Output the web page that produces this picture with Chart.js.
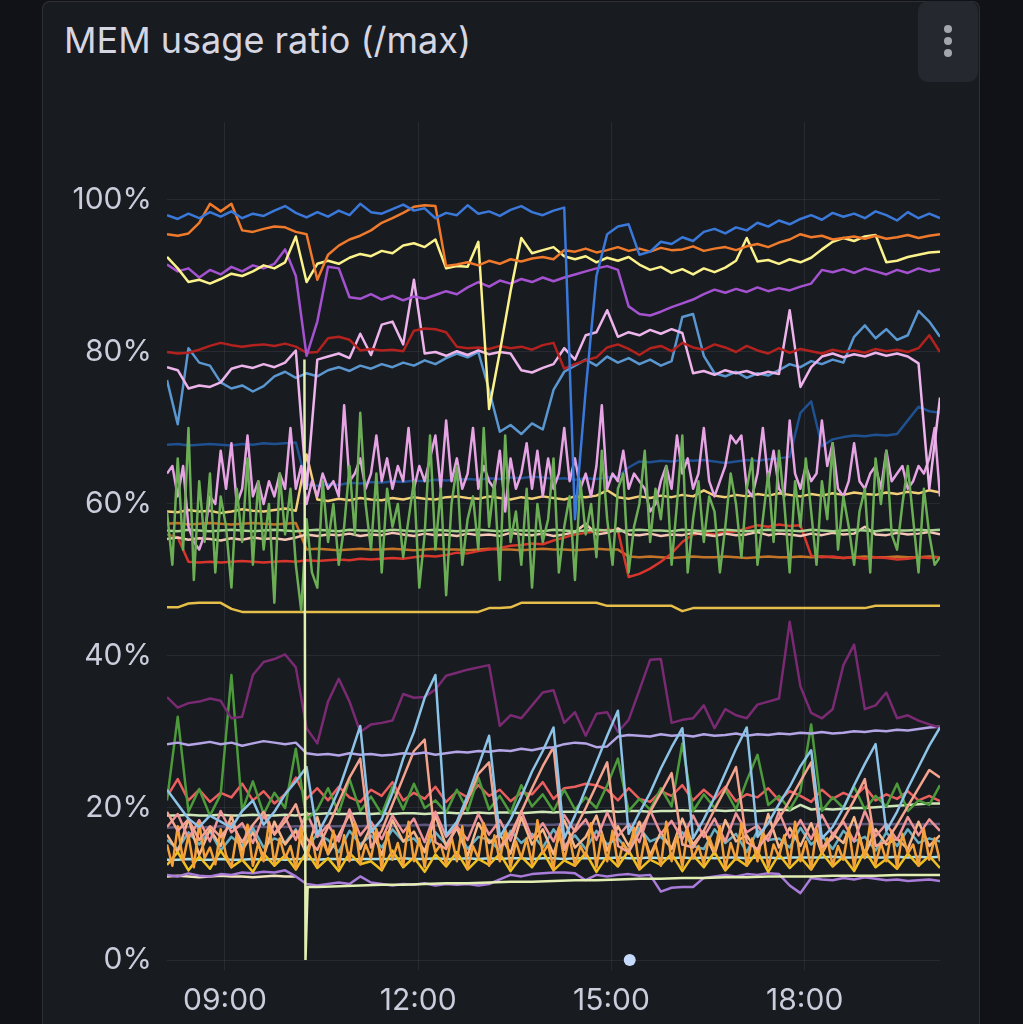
<!DOCTYPE html>
<html>
<head>
<meta charset="utf-8">
<script src="https://cdn.jsdelivr.net/npm/chart.js@4.4.1/dist/chart.umd.min.js"></script>
<style>
html, body { margin: 0; padding: 0; background: #111217; width: 1023px; height: 1024px; overflow: hidden; }
#panel { position: absolute; left: 42px; top: 1px; width: 936px; height: 1100px; background: #181b1f; border: 1px solid rgba(204,204,220,0.12); border-radius: 8px; }
#title { position: absolute; left: 64px; top: 22px; font: 400 36px Inter, sans-serif; line-height: 1; color: #d6d6e2; white-space: nowrap; }
#menu { position: absolute; left: 918px; top: 1px; width: 60px; height: 81px; background: #25282e; border-radius: 10px; }
.dot { position: absolute; left: 26px; width: 8px; height: 8px; border-radius: 50%; background: #a3a6ad; }
#chart { position: absolute; left: 0; top: 0; }
</style>
</head>
<body>
<div id="panel"></div>
<div id="title">MEM usage ratio (/max)</div>
<div id="menu"><div class="dot" style="top:24px"></div><div class="dot" style="top:36px"></div><div class="dot" style="top:48px"></div></div>
<canvas id="chart" width="1023" height="1024"></canvas>
<script>
// sample times, minutes since midnight (10 min and 5 min steps)
const times = [486, 496, 506, 516, 526, 536, 546, 556, 566, 576,
  586, 596, 606, 616, 626, 636, 646, 656, 666, 676,
  686, 696, 706, 716, 726, 736, 746, 756, 766, 776,
  786, 796, 806, 816, 826, 836, 846, 856, 866, 876,
  886, 896, 906, 916, 926, 936, 946, 956, 966, 976,
  986, 996, 1006, 1016, 1026, 1036, 1046, 1056, 1066, 1076,
  1086, 1096, 1106, 1116, 1126, 1136, 1146, 1156, 1166, 1176,
  1186, 1196, 1206]

const fineTimes = [486, 491, 496, 501, 506, 511, 516, 521, 526, 531, 536, 541,
  546, 551, 556, 561, 566, 571, 576, 581, 586, 591, 596, 601,
  606, 611, 616, 621, 626, 631, 636, 641, 646, 651, 656, 661,
  666, 671, 676, 681, 686, 691, 696, 701, 706, 711, 716, 721,
  726, 731, 736, 741, 746, 751, 756, 761, 766, 771, 776, 781,
  786, 791, 796, 801, 806, 811, 816, 821, 826, 831, 836, 841,
  846, 851, 856, 861, 866, 871, 876, 881, 886, 891, 896, 901,
  906, 911, 916, 921, 926, 931, 936, 941, 946, 951, 956, 961,
  966, 971, 976, 981, 986, 991, 996, 1001, 1006, 1011, 1016, 1021,
  1026, 1031, 1036, 1041, 1046, 1051, 1056, 1061, 1066, 1071, 1076, 1081,
  1086, 1091, 1096, 1101, 1106, 1111, 1116, 1121, 1126, 1131, 1136, 1141,
  1146, 1151, 1156, 1161, 1166, 1171, 1176, 1181, 1186, 1191, 1196, 1201,
  1206]

const paleLimeTimes = [614, 615, 617, 626, 646, 666, 686, 706, 726, 746, 766, 786, 806, 826, 846, 866, 886,
  906, 926, 946, 966, 986, 1006, 1026, 1046, 1066, 1086, 1106, 1126, 1146, 1166, 1186, 1206]

const xTicks = [540, 720, 900, 1080]
const yTicks = [0, 20, 40, 60, 80, 100]

// series values, percent of max
const blueTop = [98.0, 97.5, 98.2, 97.6, 98.4, 97.8, 98.5, 97.6, 98.2, 97.9,
  98.6, 99.2, 98.3, 97.7, 98.4, 97.8, 98.6, 98.0, 99.5, 98.4,
  98.2, 98.8, 99.4, 98.6, 98.9, 97.6, 98.3, 98.0, 99.3, 98.2,
  98.5, 97.9, 98.7, 99.2, 98.4, 98.0, 98.6, 99.0, 58.0, 75.0,
  90.0, 95.5, 96.5, 96.8, 92.8, 93.2, 94.5, 94.2, 95.1, 94.6,
  95.8, 96.2, 95.6, 96.4, 96.0, 97.0, 96.5, 97.3, 96.8, 97.5,
  98.0, 97.4, 98.3, 97.8, 98.2, 97.6, 98.5, 98.0, 97.3, 98.4,
  97.6, 98.2, 97.6]

const orange = [95.5, 95.3, 95.6, 97.0, 99.5, 98.5, 99.5, 96.0, 95.8, 96.2,
  96.5, 96.4, 95.8, 95.5, 89.5, 92.8, 94.0, 94.8, 95.3, 96.0,
  97.0, 97.6, 98.3, 99.1, 99.3, 99.2, 91.3, 91.5, 91.8, 91.4,
  92.0, 91.6, 92.2, 91.9, 92.3, 92.5, 92.2, 93.4, 93.2, 93.6,
  93.1, 93.4, 93.8, 93.3, 93.6, 93.2, 93.7, 93.4, 93.5, 93.9,
  93.3, 93.6, 93.8, 93.4, 93.9, 94.2, 93.8, 94.4, 94.8, 95.5,
  95.1, 95.3, 94.8, 95.0, 95.2, 94.9, 95.3, 94.9, 95.1, 95.4,
  95.0, 95.3, 95.5]

const yellowLight = [92.5, 91.0, 89.2, 89.5, 89.0, 89.6, 90.3, 90.0, 90.6, 91.4,
  91.0, 91.8, 95.2, 89.2, 91.6, 92.0, 91.6, 92.4, 92.9, 92.6,
  93.3, 93.0, 94.0, 94.3, 93.8, 94.8, 91.0, 91.3, 91.2, 94.5,
  72.5, 80.0, 88.0, 95.0, 93.0, 93.4, 93.8, 92.6, 92.2, 92.6,
  91.8, 92.4, 92.0, 92.5, 91.5, 90.8, 91.2, 90.4, 90.9, 90.2,
  91.0, 90.5, 91.1, 92.0, 95.0, 91.9, 92.1, 91.6, 92.2, 91.8,
  92.4, 93.5, 94.5, 95.0, 94.6, 95.2, 95.4, 91.8, 92.0, 92.5,
  92.8, 93.1, 93.2]

const purple = [91.5, 90.6, 91.0, 89.8, 90.8, 90.2, 91.2, 90.6, 91.4, 91.0,
  91.6, 93.5, 90.0, 79.5, 84.0, 91.2, 91.0, 87.2, 87.0, 87.6,
  86.9, 87.4, 86.8, 87.3, 87.0, 87.5, 88.0, 87.6, 88.5, 89.2,
  88.6, 89.4, 89.0, 89.6, 89.2, 89.8, 89.3, 89.8, 90.2, 90.6,
  91.0, 91.3, 90.8, 86.0, 85.0, 84.8, 85.3, 85.9, 86.4, 86.9,
  87.6, 88.2, 87.8, 88.3, 87.9, 88.5, 88.0, 88.4, 88.1, 88.6,
  89.0, 90.8, 90.5, 90.9, 90.4, 91.0, 90.6, 90.2, 90.8, 90.4,
  91.0, 90.6, 90.9]

const darkRed = [80.0, 79.8, 79.9, 80.3, 80.8, 81.2, 80.9, 80.7, 80.9, 81.0,
  80.8, 81.1, 80.7, 79.9, 80.0, 81.8, 82.0, 81.6, 80.2, 80.4,
  80.2, 80.3, 80.1, 82.8, 83.1, 83.0, 82.6, 80.7, 80.5, 80.6,
  80.4, 80.8, 80.5, 80.7, 80.3, 80.9, 81.2, 77.8, 78.4, 78.9,
  79.3, 80.6, 81.0, 80.4, 79.6, 80.5, 80.8, 80.1, 81.2, 80.6,
  80.3, 81.0, 80.6, 80.0, 80.8, 80.2, 79.8, 80.5, 79.9, 80.4,
  80.1, 79.8, 80.3, 80.0, 80.2, 79.9, 80.4, 80.1, 80.3, 80.0,
  80.5, 82.2, 80.0]

const lavender = [78.0, 77.6, 75.2, 75.6, 75.4, 76.0, 77.8, 78.2, 77.9, 78.4,
  78.0, 78.6, 80.2, 62.0, 79.0, 79.4, 79.8, 79.2, 82.4, 79.6,
  83.6, 84.0, 81.0, 89.5, 79.8, 80.0, 79.5, 80.1, 79.6, 80.2,
  79.7, 80.0, 79.8, 77.6, 77.3, 77.9, 78.4, 80.5, 79.0, 82.2,
  82.6, 85.5, 82.0, 82.6, 82.2, 82.9, 82.4, 83.0, 82.5, 77.2,
  77.5, 77.0, 77.6, 77.2, 77.5, 77.0, 77.4, 77.1, 85.5, 75.4,
  78.0, 79.4, 79.8, 79.3, 79.7, 79.4, 79.9, 79.5, 79.8, 79.4,
  78.5, 62.0, 74.0]

const steelBlue = [76.3, 70.5, 80.5, 78.6, 78.2, 76.0, 75.2, 75.6, 74.8, 75.5,
  76.8, 77.4, 76.6, 77.2, 76.8, 77.6, 78.0, 77.5, 78.2, 77.8,
  78.4, 78.0, 78.6, 78.2, 78.9, 78.4, 79.2, 79.8, 79.3, 80.0,
  75.0, 69.5, 70.4, 69.2, 70.6, 69.8, 75.0, 77.4, 78.2, 79.0,
  78.2, 79.4, 78.6, 79.2, 78.4, 79.0, 78.2, 78.8, 84.6, 85.0,
  79.5, 77.2, 76.8, 77.4, 76.6, 77.2, 76.9, 77.6, 78.4, 78.0,
  78.8, 78.4, 79.0, 78.6, 82.0, 83.5, 81.8, 83.0, 81.6, 82.2,
  85.4, 84.0, 82.0]

const navy = [67.8, 67.9, 67.7, 67.8, 67.9, 67.8, 67.7, 67.9, 67.8, 68.0,
  67.9, 68.0, 68.1, 62.6, 62.4, 62.6, 62.5, 62.8, 62.7, 62.9,
  62.8, 63.0, 62.9, 63.1, 63.0, 63.2, 63.1, 63.2, 63.3, 63.2,
  63.4, 63.3, 63.5, 63.4, 63.6, 63.5, 63.3, 63.4, 63.2, 63.4,
  63.3, 63.5, 63.6, 64.8, 65.6, 65.5, 65.7, 65.6, 65.8, 65.7,
  65.8, 65.6, 65.4, 65.6, 65.8, 65.7, 65.9, 66.0, 66.2, 72.0,
  73.5, 67.6, 68.5, 68.8, 69.0, 68.9, 69.1, 69.0, 69.2, 71.0,
  72.8, 72.2, 72.0]

const pinkNoisy = [64, 65, 61, 65, 57, 55, 54, 56, 61, 60, 67, 62,
  68, 60, 62, 69, 61, 63, 60, 63, 61, 64, 62, 70,
  62, 65, 60, 63, 61, 64, 62, 63, 61, 73, 63, 64,
  66, 62, 64, 69, 63, 66, 62, 65, 63, 70, 62, 65,
  63, 66, 69, 62, 71, 63, 66, 62, 64, 70, 62, 65,
  63, 62, 67, 59, 66, 62, 64, 68, 62, 67, 61, 66,
  62, 64, 70, 63, 66, 62, 64, 61, 65, 73, 62, 64,
  63, 67, 62, 64, 63, 62, 59, 60, 63, 65, 62, 69,
  64, 66, 62, 64, 70, 63, 61, 63, 65, 69, 68, 69,
  62, 61, 64, 70, 63, 67, 62, 61, 71, 64, 62, 65,
  63, 64, 71, 65, 68, 62, 61, 63, 68, 63, 62, 64,
  65, 62, 67, 63, 64, 65, 62, 63, 65, 64, 66, 70,
  61]

const greenNoisy = [59, 52, 66, 54, 70, 50, 63, 55, 64, 51, 61, 57,
  49, 62, 55, 66, 52, 63, 54, 60, 47, 64, 56, 62,
  52, 46, 58, 51, 49, 63, 55, 60, 52, 57, 65, 56,
  72, 60, 54, 64, 51, 62, 57, 60, 53, 58, 63, 49,
  56, 69, 54, 62, 48, 60, 65, 52, 58, 61, 54, 70,
  57, 63, 50, 69, 55, 59, 52, 62, 49, 60, 55, 58,
  66, 51, 57, 61, 50, 63, 56, 60, 53, 67, 58, 52,
  62, 64, 51, 57, 60, 67, 55, 62, 58, 65, 52, 60,
  69, 51, 58, 63, 55, 61, 59, 51, 57, 64, 60, 53,
  62, 66, 52, 58, 64, 55, 67, 60, 51, 63, 57, 66,
  59, 52, 63, 58, 68, 54, 61, 57, 52, 59, 62, 51,
  66, 60, 67, 56, 54, 60, 65, 58, 51, 62, 56, 52,
  53]

const wheat = [59.0, 58.9, 59.2, 59.0, 59.1, 58.8, 59.0, 59.3, 59.1, 59.0,
  59.2, 59.4, 59.1, 66.5, 60.6, 60.4, 60.7, 60.5, 60.8, 60.6,
  60.5, 60.8, 60.6, 60.9, 60.7, 60.6, 60.9, 61.0, 60.8, 60.7,
  61.0, 60.8, 60.6, 60.9, 60.7, 61.0, 60.8, 60.6, 61.0, 60.9,
  61.1, 61.8, 60.9, 60.7, 61.0, 60.8, 61.1, 60.9, 61.2, 61.0,
  61.8, 61.1, 60.9, 61.2, 61.0, 61.3, 61.1, 61.4, 61.2, 61.0,
  61.3, 61.1, 61.4, 61.2, 61.5, 61.3, 61.2, 61.5, 61.3, 61.6,
  61.4, 61.8, 61.5]

const peach = [55.4, 55.6, 55.3, 55.5, 55.4, 55.2, 55.5, 55.3, 55.6, 55.4,
  55.5, 55.3, 55.6, 56.0, 55.8, 56.0, 55.9, 56.1, 55.8, 56.0,
  55.9, 56.2, 56.0, 55.8, 56.1, 55.9, 56.0, 55.8, 56.1, 55.9,
  56.0, 55.8, 56.2, 56.0, 55.9, 56.1, 55.8, 56.0, 56.3, 57.4,
  56.0, 56.2, 56.8, 56.0, 55.9, 56.1, 55.8, 56.0, 55.9, 56.2,
  56.0, 55.8, 56.1, 55.9, 56.0, 56.3, 55.9, 56.1, 56.0, 55.8,
  56.1, 55.9, 56.2, 56.0, 56.1, 57.0, 56.0, 55.9, 56.2, 56.0,
  56.1, 56.3, 56.0]

const paleGreen = [56.5, 56.4, 56.6, 56.5, 56.4, 56.5, 56.6, 56.5, 56.4, 56.5,
  56.6, 56.5, 56.4, 56.5, 56.6, 56.5, 56.4, 56.6, 56.5, 56.5,
  56.4, 56.6, 56.5, 56.4, 56.5, 56.6, 56.5, 56.4, 56.5, 56.6,
  56.5, 56.4, 56.6, 56.5, 56.5, 56.4, 56.6, 56.5, 56.4, 56.5,
  56.6, 56.5, 56.4, 56.5, 56.6, 56.5, 56.5, 56.4, 56.6, 56.5,
  56.4, 56.5, 56.6, 56.5, 56.4, 56.5, 56.6, 56.5, 56.5, 56.4,
  56.6, 56.5, 56.4, 56.5, 56.6, 56.5, 56.4, 56.6, 56.5, 56.5,
  56.6, 56.5, 56.6]

const brown = [57.4, 57.5, 57.3, 57.4, 57.5, 57.4, 57.3, 57.4, 57.5, 57.4,
  57.3, 57.4, 57.5, 54.0, 54.1, 54.0, 53.9, 54.0, 54.1, 54.0,
  54.0, 54.1, 54.0, 53.9, 54.0, 54.1, 54.0, 54.0, 53.9, 54.0,
  54.1, 54.0, 54.0, 53.9, 54.0, 54.1, 54.0, 54.0, 53.9, 54.0,
  54.1, 54.0, 54.0, 53.1, 53.0, 53.1, 53.0, 52.9, 53.0, 53.1,
  53.0, 53.0, 53.1, 53.0, 52.9, 53.0, 53.1, 53.0, 53.0, 53.1,
  53.0, 53.1, 53.0, 52.9, 53.0, 53.1, 53.0, 53.0, 53.1, 53.0,
  53.0, 53.1, 53.0]

const red55 = [56.0, 55.6, 52.4, 52.3, 52.4, 52.3, 52.4, 52.5, 52.4, 52.3,
  52.4, 52.5, 52.4, 52.6, 52.5, 52.6, 52.7, 52.6, 52.8, 52.7,
  52.8, 52.9, 52.8, 53.0, 53.2, 53.1, 53.3, 53.6, 53.5, 53.8,
  54.0, 54.2, 54.5, 54.6, 54.8, 54.7, 55.2, 55.6, 56.0, 56.2,
  56.4, 56.6, 56.5, 50.4, 50.8, 51.5, 52.4, 53.5, 55.0, 56.0,
  56.2, 56.0, 56.3, 56.4, 56.8, 57.2, 57.0, 57.3, 57.1, 57.2,
  53.2, 53.0, 53.1, 52.9, 53.0, 52.8, 53.0, 52.9, 52.7, 52.8,
  53.0, 52.9, 53.0]

const gold = [46.4, 46.4, 46.9, 47.0, 47.0, 47.0, 46.2, 45.8, 45.8, 45.8,
  45.8, 45.8, 45.8, 45.8, 45.8, 45.8, 45.8, 45.8, 45.8, 45.8,
  45.8, 45.8, 45.8, 45.8, 45.8, 45.8, 45.8, 45.8, 45.8, 45.8,
  46.3, 46.3, 46.4, 47.0, 47.0, 47.0, 47.0, 47.0, 47.0, 47.0,
  47.0, 46.6, 46.6, 46.6, 46.6, 46.6, 46.6, 46.6, 45.9, 46.3,
  46.3, 46.3, 46.3, 46.3, 46.3, 46.3, 46.3, 46.3, 46.3, 46.3,
  46.3, 46.3, 46.3, 46.3, 46.3, 46.3, 46.6, 46.6, 46.6, 46.6,
  46.6, 46.6, 46.6]

const magenta = [34.6, 33.2, 33.8, 34.0, 34.4, 34.1, 31.8, 32.0, 37.5, 39.2,
  39.6, 40.2, 38.5, 30.5, 28.5, 34.0, 37.0, 34.0, 30.0, 31.0,
  31.2, 31.5, 35.0, 34.5, 34.6, 35.6, 37.4, 37.8, 38.2, 38.5,
  38.8, 30.8, 32.2, 31.8, 33.5, 35.2, 35.5, 31.2, 32.6, 29.5,
  32.4, 32.6, 30.0, 31.6, 35.5, 39.5, 39.6, 31.2, 31.6, 31.8,
  33.5, 30.5, 33.0, 32.2, 31.8, 33.6, 34.0, 34.4, 44.5, 36.0,
  32.5, 31.8, 33.0, 38.8, 41.5, 33.0, 33.5, 35.2, 31.8, 32.2,
  31.5, 31.0, 30.6]

const lilac = [28.4, 28.6, 28.3, 28.5, 28.7, 28.4, 28.6, 28.2, 28.5, 28.8,
  28.6, 28.4, 28.6, 27.2, 27.0, 27.1, 26.9, 27.2, 27.0, 27.1,
  26.9, 27.0, 27.2, 27.1, 27.3, 27.0, 27.2, 27.4, 27.3, 27.5,
  27.4, 27.6, 27.5, 27.8, 27.6, 27.9, 28.0, 28.4, 28.6, 28.5,
  28.0, 28.1, 29.4, 29.6, 29.5, 29.4, 29.7, 29.5, 29.6, 29.4,
  29.7, 29.5, 29.6, 29.8, 29.5, 29.7, 29.6, 29.8, 29.7, 29.9,
  29.8, 30.0, 29.8, 29.9, 30.1, 30.0, 30.2, 30.1, 30.3, 30.2,
  30.4, 30.6, 30.7]

const skyBlue = [22.4, 20.5, 18.6, 17.5, 19.0, 18.2, 17.4, 19.6, 21.0, 17.8,
  19.5, 21.8, 23.5, 25.4, 16.5, 19.2, 22.4, 26.5, 30.8, 16.8,
  18.5, 22.0, 26.5, 30.0, 34.5, 37.5, 16.4, 18.2, 21.6, 25.5,
  29.5, 16.2, 18.5, 21.5, 24.8, 27.5, 30.6, 16.0, 19.0, 22.5,
  26.0, 29.5, 32.8, 16.6, 19.4, 22.0, 25.2, 28.0, 30.5, 16.0,
  18.5, 21.4, 24.6, 27.8, 30.6, 16.2, 18.0, 20.5, 22.8, 25.5,
  27.6, 16.0, 17.5, 20.0, 23.0, 25.8, 28.4, 17.0, 19.5, 22.6,
  25.4, 28.2, 30.6]

const salmonSaw = [19.5, 17.0, 18.5, 15.8, 17.6, 16.2, 18.0, 15.5, 17.8, 19.5,
  16.5, 18.2, 20.5, 16.0, 14.5, 17.5, 20.8, 24.0, 26.5, 14.8,
  17.0, 20.5, 24.0, 27.5, 29.0, 15.5, 14.6, 17.8, 21.0, 24.5,
  26.0, 14.8, 16.5, 19.5, 22.6, 25.5, 28.0, 14.5, 17.2, 20.0,
  23.0, 26.0, 15.0, 14.2, 16.8, 19.5, 22.0, 24.6, 15.2, 14.8,
  17.0, 19.8, 22.5, 25.4, 15.5, 14.6, 16.5, 18.6, 21.0, 23.5,
  26.0, 14.8, 16.0, 18.5, 21.0, 23.8, 15.0, 15.6, 17.8, 20.2,
  22.6, 25.0, 24.0]

const redNoisy = [21.5, 23.8, 21.0, 22.4, 20.8, 22.0, 21.4, 23.2, 21.0, 22.2,
  20.6, 21.8, 24.0, 21.2, 22.6, 21.0, 22.8, 21.4, 20.8, 22.4,
  21.6, 23.4, 21.0, 22.0, 21.2, 22.8, 20.8, 22.2, 21.4, 23.0,
  21.6, 22.4, 20.9, 22.0, 21.8, 23.4, 21.2, 22.6, 22.8, 23.2,
  23.0, 22.4, 21.0, 22.6, 21.2, 20.8, 22.2, 21.6, 23.0, 21.0,
  22.4, 21.2, 22.8, 20.9, 21.8, 21.4, 22.6, 21.0, 22.2, 21.6,
  20.8, 22.4, 21.2, 22.0, 21.4, 22.8, 21.0, 21.8, 21.2, 22.2,
  21.0, 21.6, 20.9]

const greenSpiky = [21.0, 32.0, 19.5, 22.5, 19.0, 21.8, 37.5, 19.6, 23.5, 19.2,
  22.0, 20.0, 27.8, 18.5, 19.8, 22.6, 19.4, 23.8, 19.6, 21.5,
  19.2, 22.8, 19.8, 23.2, 20.0, 21.0, 19.4, 22.4, 19.6, 24.0,
  19.8, 21.6, 19.3, 23.0, 20.2, 21.8, 19.6, 22.4, 19.8, 21.4,
  20.0, 23.0, 26.5, 19.6, 21.2, 19.8, 22.6, 20.2, 28.5, 19.6,
  21.8, 20.0, 22.4, 19.8, 23.6, 27.0, 20.4, 21.6, 19.8, 22.2,
  31.0, 19.6, 21.4, 20.0, 22.8, 19.8, 21.6, 20.2, 23.2, 19.6,
  21.0, 20.4, 23.0]

const paleGreen19 = [19.0, 19.0, 19.1, 19.0, 19.0, 19.1, 19.0, 19.0, 19.1, 19.0,
  19.0, 19.1, 19.0, 19.2, 19.2, 19.3, 19.2, 19.2, 19.3, 19.2,
  19.3, 19.2, 19.3, 19.3, 19.2, 19.3, 19.4, 19.3, 19.3, 19.4,
  19.3, 19.4, 19.4, 19.3, 19.4, 19.5, 19.4, 19.5, 19.5, 19.4,
  19.5, 19.6, 19.5, 19.6, 19.6, 19.5, 19.6, 19.6, 19.7, 19.6,
  19.6, 19.7, 19.6, 19.7, 19.7, 19.6, 19.7, 19.8, 19.7, 20.4,
  19.8, 19.9, 19.8, 19.9, 20.0, 20.0, 20.1, 20.2, 20.3, 20.4,
  20.5, 20.6, 20.6]

const slate = [17.4, 17.5, 17.5, 17.4, 17.5, 17.6, 17.5, 17.5, 17.6, 17.5,
  17.6, 17.5, 17.6, 17.6, 17.7, 17.6, 17.6, 17.7, 17.6, 17.7,
  17.7, 17.6, 17.7, 17.7, 17.8, 17.7, 17.7, 17.8, 17.7, 17.8,
  17.8, 17.7, 17.8, 17.8, 17.9, 17.8, 17.8, 17.9, 17.8, 17.9,
  17.9, 17.8, 17.9, 17.9, 18.0, 17.9, 17.9, 18.0, 17.9, 17.9,
  17.9, 17.8, 17.9, 17.9, 17.8, 17.9, 17.9, 17.8, 17.9, 17.9,
  17.9, 17.8, 17.9, 17.9, 17.8, 17.9, 17.9, 17.8, 17.9, 17.9,
  17.8, 17.9, 17.9]

const paleCyan = [13.2, 13.2, 13.3, 13.2, 13.2, 13.3, 13.2, 13.2, 13.3, 13.2,
  13.3, 13.2, 13.3, 13.3, 13.2, 13.3, 13.3, 13.2, 13.3, 13.3,
  13.3, 13.3, 13.4, 13.3, 13.3, 13.4, 13.3, 13.3, 13.4, 13.3,
  13.4, 13.3, 13.4, 13.4, 13.3, 13.4, 13.4, 13.3, 13.4, 13.4,
  13.4, 13.4, 13.5, 13.4, 13.4, 13.5, 13.4, 13.4, 13.5, 13.4,
  13.5, 13.4, 13.5, 13.5, 13.4, 13.5, 13.5, 13.4, 13.5, 13.5,
  13.5, 13.5, 13.6, 13.5, 13.5, 13.6, 13.5, 13.5, 13.6, 13.5,
  13.6, 13.5, 13.6]

const cream = [11.0, 11.1, 11.0, 10.9, 11.0, 11.1, 11.0, 11.0, 10.9, 11.0, 11.1, 11.0, 11.0]

const paleLime = [79, 0, 9.6, 9.6, 9.7, 9.8, 9.9, 9.9, 10.0, 10.1, 10.1, 10.2, 10.3, 10.3, 10.4, 10.5, 10.5,
  10.6, 10.7, 10.7, 10.8, 10.8, 10.9, 10.9, 11.0, 11.0, 11.0, 11.1, 11.1, 11.1, 11.2, 11.2, 11.2]

const purpleLow = [11.2, 11.0, 11.4, 11.1, 11.0, 11.3, 11.2, 11.5, 11.4, 11.6,
  11.5, 11.8, 11.0, 10.0, 9.8, 10.0, 10.2, 10.0, 11.0, 10.2,
  10.0, 9.8, 10.0, 9.9, 10.1, 9.8, 10.0, 9.9, 10.0, 9.8,
  10.0, 10.6, 11.2, 11.0, 11.3, 11.4, 11.5, 11.5, 11.4, 10.5,
  11.2, 11.0, 11.2, 11.3, 11.1, 11.2, 9.0, 9.5, 9.6, 9.6,
  10.8, 11.0, 11.2, 11.0, 11.3, 11.2, 11.4, 11.3, 9.8, 8.8,
  10.8, 10.6, 10.5, 10.8, 10.6, 10.9, 10.7, 10.5, 10.6, 10.4,
  10.5, 10.6, 10.4]

const orangeNoisy = [15.2, 12.4, 17.6, 13.0, 16.4, 12.2, 18.0, 13.4, 14.8, 12.6, 17.2, 13.8,
  12.2, 16.6, 13.2, 17.8, 12.4, 15.4, 13.0, 18.2, 12.6, 16.0, 13.4, 15.0,
  12.0, 17.4, 13.2, 16.2, 12.4, 15.6, 14.0, 17.0, 12.2, 16.4, 13.0, 18.0,
  12.6, 15.2, 13.4, 17.2, 12.0, 16.8, 13.2, 15.4, 12.4, 18.2, 13.0, 16.0,
  12.2, 17.0, 14.2, 15.2, 12.6, 16.2, 13.0, 17.6, 12.0, 15.0, 13.4, 18.0,
  12.4, 16.4, 13.0, 17.2, 12.2, 15.6, 13.4, 16.0, 12.6, 18.4, 14.0, 15.2,
  12.0, 17.4, 13.2, 16.2, 12.4, 15.0, 13.6, 18.0, 12.2, 16.6, 13.0, 17.0,
  12.6, 15.4, 14.0, 17.4, 12.0, 16.0, 13.2, 15.2, 12.4, 18.2, 13.0, 16.4,
  12.2, 17.2, 13.4, 15.0, 12.6, 16.2, 14.2, 17.6, 12.0, 15.4, 13.2, 18.0,
  12.4, 16.0, 13.0, 17.0, 12.2, 15.2, 13.6, 16.4, 12.6, 18.2, 13.0, 15.6,
  12.0, 17.2, 14.0, 16.0, 12.4, 15.0, 13.2, 17.4, 12.2, 16.2, 13.4, 18.0,
  12.6, 15.4, 13.0, 17.0, 12.2, 16.6, 14.0, 15.2, 12.4, 17.2, 13.2, 16.0,
  13.0]

const yellowNoisy = [12.5, 14.2, 11.8, 13.6, 12.0, 14.4, 12.2, 13.2, 11.6, 14.0,
  12.4, 13.8, 11.9, 14.3, 12.1, 13.4, 11.7, 14.1, 12.6, 13.0,
  11.8, 14.4, 12.2, 13.5, 11.6, 13.9, 12.3, 14.2, 11.9, 13.3,
  12.5, 14.0, 11.7, 13.6, 12.2, 14.3, 11.8, 13.1, 12.4, 14.1,
  11.6, 13.7, 12.3, 14.4, 11.9, 13.2, 12.5, 14.0, 11.7, 13.8,
  12.2, 14.2, 11.8, 13.4, 12.4, 14.3, 11.6, 13.9, 12.1, 13.5,
  11.9, 14.1, 12.3, 13.6, 11.7, 14.4, 12.2, 13.3, 12.0, 14.0,
  12.4, 13.7, 12.1]

const peachNoisy = [16.5, 14.2, 18.6, 13.8, 17.2, 15.0, 19.0, 14.4, 16.8, 13.6,
  18.2, 15.2, 17.0, 14.0, 18.8, 13.9, 16.4, 19.2, 14.6, 17.6,
  13.8, 18.4, 15.6, 16.9, 14.2, 19.0, 15.0, 17.4, 13.7, 18.0,
  15.4, 16.6, 14.0, 18.8, 15.2, 17.2, 13.9, 18.4, 14.8, 16.2,
  19.0, 14.4, 17.6, 15.0, 18.2, 13.8, 16.8, 14.6, 18.6, 15.2,
  17.0, 13.9, 18.4, 15.6, 16.4, 14.2, 19.2, 14.8, 17.4, 15.0,
  18.0, 14.0, 16.6, 15.4, 18.8, 13.8, 17.2, 15.2, 16.0, 14.6,
  18.2, 15.0, 16.4]

const tealNoisy = [15.8, 14.6, 16.8, 15.2, 17.0, 14.4, 16.2, 15.0, 17.4, 14.8,
  16.0, 15.4, 17.2, 14.6, 16.6, 15.8, 14.2, 17.0, 15.2, 16.4,
  14.8, 17.2, 15.6, 16.0, 14.4, 16.8, 15.2, 17.4, 14.6, 16.2,
  15.8, 14.4, 17.0, 15.4, 16.6, 14.8, 17.2, 15.0, 16.4, 14.6,
  17.0, 15.2, 16.0, 14.4, 17.4, 15.6, 16.2, 14.8, 16.8, 15.0,
  14.6, 17.2, 15.4, 16.6, 14.2, 17.0, 15.8, 16.0, 14.8, 17.4,
  15.2, 16.4, 14.6, 17.0, 15.6, 16.2, 14.4, 16.8, 15.0, 17.2,
  15.4, 16.0, 15.6]

const salmonNoisy = [17.5, 19.2, 16.0, 18.4, 15.6, 19.6, 16.8, 18.0, 15.4, 19.0,
  16.6, 18.8, 15.8, 19.4, 16.2, 17.8, 15.6, 19.8, 16.4, 18.2,
  15.9, 19.0, 16.8, 18.6, 15.5, 19.5, 16.2, 17.6, 15.8, 19.2,
  16.5, 18.4, 15.7, 19.6, 16.0, 18.0, 15.6, 19.1, 16.9, 18.5,
  15.8, 19.4, 16.3, 17.9, 15.5, 19.7, 16.6, 18.3, 15.9, 19.0,
  16.2, 18.6, 15.6, 19.3, 16.8, 17.7, 15.7, 19.5, 16.1, 18.4,
  15.9, 19.1, 16.5, 18.2, 15.6, 19.6, 16.3, 17.9, 15.8, 18.8,
  16.4, 18.5, 17.0]

// annotation marker on the time axis
const annotationTimes = [917]
const annotationValues = [0]

function points(ts, vals) {
  return vals.map((v, k) => ({ x: ts[k], y: v }))
}

function hhmm(v) {
  const h = Math.floor(v / 60), m = v % 60
  return String(h).padStart(2, '0') + ':' + String(m).padStart(2, '0')
}

// listed bottom (drawn first) to top (drawn last)
const layers = [
  [gold, times, '#E6BE4A'],
  [navy, times, '#1F5090'],
  [brown, times, '#C47428'],
  [red55, times, '#D8352C'],
  [peach, times, '#F6C6B6'],
  [paleGreen, times, '#A9D190'],
  [wheat, times, '#F2CF78'],
  [pinkNoisy, fineTimes, '#E6A4E4'],
  [greenNoisy, fineTimes, '#6CAE55'],
  [steelBlue, times, '#5A96D0'],
  [lavender, times, '#EDB4EC'],
  [darkRed, times, '#B3221F'],
  [purple, times, '#A452D0'],
  [yellowLight, times, '#FBF28C'],
  [orange, times, '#F07A2C'],
  [blueTop, times, '#3A78DA'],
  [cream, times, '#F2E3BF'],
  [paleCyan, times, '#A8DDE8'],
  [slate, times, '#5C557A'],
  [paleGreen19, times, '#CFE6B8'],
  [purpleLow, times, '#A97CDA'],
  [redNoisy, times, '#EC5F5F'],
  [tealNoisy, times, '#66B0C6'],
  [peachNoisy, times, '#F7B58A'],
  [salmonNoisy, times, '#EF9498'],
  [yellowNoisy, times, '#F0C020'],
  [orangeNoisy, fineTimes, '#F5A13A'],
  [greenSpiky, times, '#4C9A3B'],
  [salmonSaw, times, '#F3A38E'],
  [lilac, times, '#B4A5E6'],
  [magenta, times, '#7A2A72'],
  [skyBlue, times, '#8DC3E6'],
  [paleLime, paleLimeTimes, '#E2EEB2']
]

const datasets = layers.map(l => ({
  data: points(l[1], l[0]),
  borderColor: l[2],
  borderWidth: 2.5,
  borderJoinStyle: 'round',
  pointRadius: 0,
  fill: false,
  tension: 0
}))

datasets.push({
  data: points(annotationTimes, annotationValues),
  showLine: false,
  pointRadius: 6,
  pointBorderWidth: 0,
  pointBackgroundColor: '#C6DAFC',
  clip: false
})

// chart.js draws dataset 0 last, so flip the order
datasets.reverse()

const gridColor = 'rgba(204,204,220,0.09)'
const tickFont = { family: 'Inter', size: 30 }

new Chart(document.getElementById('chart'), {
  type: 'line',
  data: { datasets: datasets },
  options: {
    responsive: false,
    animation: false,
    events: [],
    layout: { padding: { top: 122, right: 83, left: 0, bottom: 0 } },
    plugins: { legend: { display: false }, tooltip: { enabled: false } },
    scales: {
      x: {
        type: 'linear',
        min: 486,
        max: 1206,
        border: { display: false },
        grid: { color: gridColor, tickLength: 10 },
        ticks: { color: '#ccccdc', font: tickFont, padding: 13, maxRotation: 0, callback: hhmm },
        afterBuildTicks: s => { s.ticks = xTicks.map(v => ({ value: v })) },
        afterFit: s => { s.height = 64 }
      },
      y: {
        min: 0,
        max: 110.26,
        border: { display: false },
        grid: { color: gridColor, drawTicks: false },
        ticks: { color: '#ccccdc', font: tickFont, padding: 15, callback: v => v + '%' },
        afterBuildTicks: s => { s.ticks = yTicks.map(v => ({ value: v })) },
        afterFit: s => { s.width = 167 }
      }
    }
  }
})
</script>
</body>
</html>
